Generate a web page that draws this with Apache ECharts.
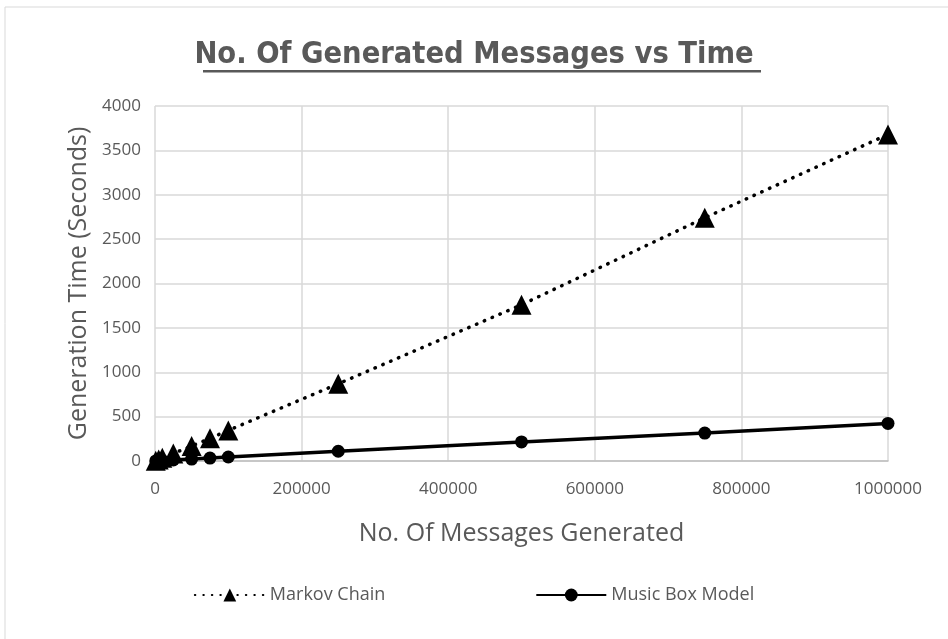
<!DOCTYPE html>
<html>
<head>
<meta charset="utf-8">
<script src="https://cdn.jsdelivr.net/npm/echarts@6/dist/echarts.min.js"></script>
<style>
html,body{margin:0;padding:0;background:#fff;}
#chart{width:948px;height:639px;}
</style>
</head>
<body>
<div id="chart"></div>
<script>
const titleText = 'No. Of Generated Messages vs Time';
const xAxisName = 'No. Of Messages Generated';
const yAxisName = 'Generation Time (Seconds)';
const seriesNames = ['Markov Chain', 'Music Box Model'];
const messages = [1000, 5000, 10000, 25000, 50000, 75000, 100000, 250000, 500000, 750000, 1000000];
const markovTimes = [4, 18, 36, 85, 170, 255, 345, 870, 1760, 2740, 3680];
const musicBoxTimes = [1, 2, 5, 11, 22, 33, 45, 110, 215, 315, 423];

const chart = echarts.init(document.getElementById('chart'));
const font = "'Open Sans', 'Noto Sans', sans-serif";
const grey = '#595959';

chart.setOption({
  backgroundColor: '#fff',
  animation: false,
  graphic: [
    { type: 'rect', shape: { x: 5, y: 7, width: 1000, height: 700 }, style: { fill: 'none', stroke: '#d9d9d9', lineWidth: 1 }, z: -1 },
    { type: 'rect', shape: { x: 203, y: 70, width: 558, height: 2.5 }, style: { fill: grey } }
  ],
  title: {
    text: titleText,
    left: 'center',
    top: 35,
    textStyle: { fontFamily: "'Liberation Sans Narrow', 'DejaVu Sans Condensed', sans-serif", fontWeight: 'bold', fontSize: 30.5, color: grey }
  },
  legend: {
    bottom: 30,
    left: 'center',
    itemWidth: 70,
    itemHeight: 16,
    itemGap: 150,
    textStyle: { fontFamily: font, fontSize: 18, color: grey },
    data: seriesNames
  },
  grid: { left: 155, right: 60, top: 106, bottom: 178 },
  xAxis: {
    type: 'value',
    min: 0, max: 1000000, interval: 200000,
    name: xAxisName,
    nameLocation: 'middle',
    nameGap: 60,
    nameTextStyle: { fontFamily: font, fontSize: 25, color: grey },
    axisLine: { show: true, lineStyle: { color: '#bfbfbf', width: 1.5 } },
    axisTick: { show: false },
    axisLabel: { fontFamily: font, fontSize: 17, color: grey, margin: 20, formatter: v => String(v) },
    splitLine: { show: true, lineStyle: { color: '#d9d9d9', width: 1.5 } }
  },
  yAxis: {
    type: 'value',
    min: 0, max: 4000, interval: 500,
    name: yAxisName,
    nameLocation: 'middle',
    nameGap: 62,
    nameTextStyle: { fontFamily: font, fontSize: 25, color: grey },
    axisLine: { show: false },
    axisTick: { show: false },
    axisLabel: { fontFamily: font, fontSize: 17, color: grey, margin: 14, formatter: v => String(v) },
    splitLine: { show: true, lineStyle: { color: '#d9d9d9', width: 1.5 } }
  },
  series: [
    {
      name: seriesNames[0],
      type: 'line',
      data: messages.map((m, i) => [m, markovTimes[i]]),
      symbol: 'triangle',
      symbolSize: 20,
      itemStyle: { color: '#000' },
      lineStyle: { color: '#000', width: 3.5, type: [0.5, 8], cap: 'round' }
    },
    {
      name: seriesNames[1],
      type: 'line',
      data: messages.map((m, i) => [m, musicBoxTimes[i]]),
      symbol: 'circle',
      symbolSize: 13,
      itemStyle: { color: '#000' },
      lineStyle: { color: '#000', width: 3.5 }
    }
  ]
});
</script>
</body>
</html>
